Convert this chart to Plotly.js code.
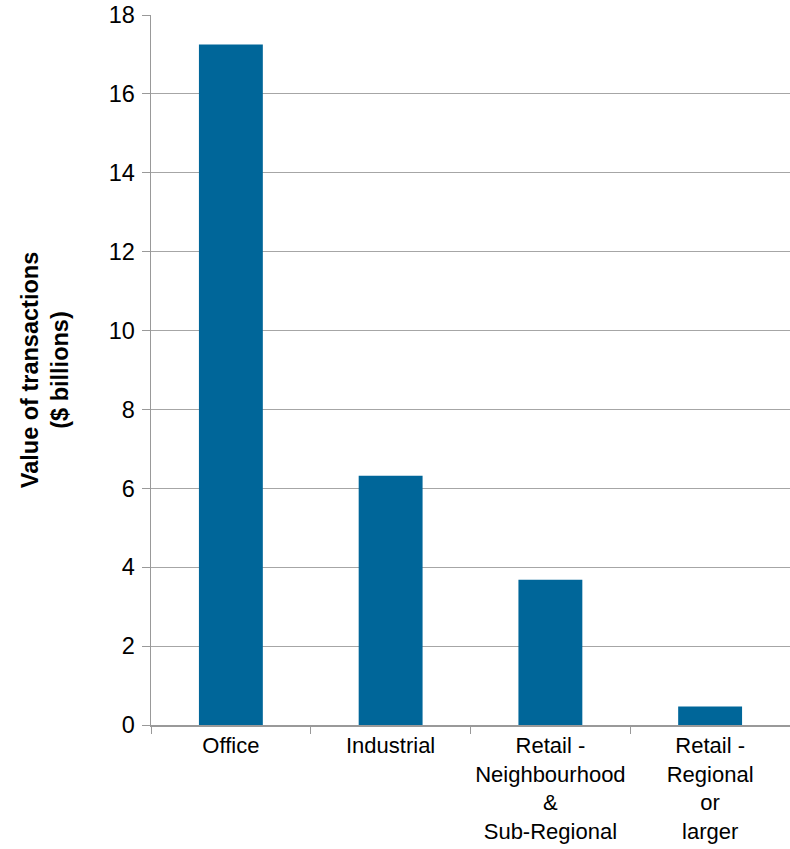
<!DOCTYPE html>
<html><head><meta charset="utf-8">
<script src="https://cdn.plot.ly/plotly-3.0.1.min.js"></script>
<style>html,body{margin:0;padding:0;background:#fff}</style>
</head><body>
<div id="chart" style="width:790px;height:849px"></div>
<script>
const categories = ["Office", "Industrial", "Retail -<br>Neighbourhood<br>&<br>Sub-Regional", "Retail -<br>Regional<br>or<br>larger"];
const values = [17.25, 6.32, 3.68, 0.47];
const yTicks = [0, 2, 4, 6, 8, 10, 12, 14, 16, 18];

const font = "Liberation Sans, Arial, sans-serif";
Plotly.newPlot("chart", [{
  type: "bar",
  x: categories,
  y: values,
  width: 0.4,
  marker: {color: "#006699"},
  hoverinfo: "none"
}], {
  width: 790, height: 849,
  margin: {l: 151, r: 0, t: 15, b: 124},
  paper_bgcolor: "#fff", plot_bgcolor: "#fff",
  showlegend: false,
  font: {family: font, size: 23.5, color: "#000"},
  xaxis: {
    type: "category",
    tickson: "boundaries",
    tickangle: 0,
    ticks: "outside", ticklen: 7, tickcolor: "#999",
    showline: true, linecolor: "#999", linewidth: 1.5,
    showgrid: false, zeroline: false,
    tickfont: {family: font, size: 22, color: "#000"},
    ticklabelstandoff: 0,
    automargin: false,
    fixedrange: true
  },
  yaxis: {
    range: [0, 18],
    tickvals: yTicks,
    ticks: "outside", ticklen: 8, tickcolor: "#999",
    showline: true, linecolor: "#999", linewidth: 1.5,
    showgrid: true, gridcolor: "#a6a6a6", gridwidth: 1,
    zeroline: false,
    tickfont: {family: font, size: 23.5, color: "#000"},
    ticklabelstandoff: 2,
    title: {text: "<b>Value of transactions<br>($ billions)</b>", font: {family: font, size: 23.5, color: "#000"}, standoff: 33},
    automargin: false,
    fixedrange: true
  }
}, {staticPlot: true});
</script>
</body></html>
